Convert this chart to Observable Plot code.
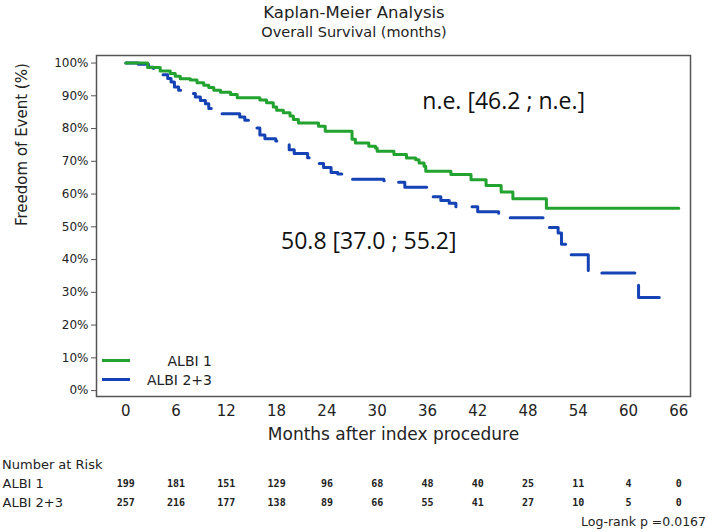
<!DOCTYPE html>
<html><head><meta charset="utf-8">
<script src="https://cdn.jsdelivr.net/npm/d3@7"></script>
<script src="https://cdn.jsdelivr.net/npm/@observablehq/plot@0.6"></script>
<style>
body{margin:0;background:#fff;font-family:"DejaVu Sans",sans-serif;color:#222}
#wrap{position:relative;width:708px;height:532px;overflow:hidden;background:#fff}
.abs{position:absolute}
.ttl{left:0;width:708px;text-align:center;line-height:1.15}
.leg{left:102px;font-size:14px;color:#222}
.leg .row{display:flex;align-items:center;height:19px}
.leg .sw{width:28px;height:3px;margin-right:8px}
.leg .lb{width:74px;text-align:right}
</style></head><body><div id="wrap"></div>
<script>
// ---- data ----
const seriesNames = ["ALBI 1", "ALBI 2+3"];
const seriesColors = ["#22a22e", "#1543b5"];
const albi1Months = [0, 2.6, 4.1, 5.3, 5.9, 6.5, 7.7, 8.5, 9.3, 9.9, 10.5, 11.3, 12.5, 13.3, 16.0, 16.8, 17.6, 18.0, 18.8, 19.6, 20.0, 20.6, 23.0, 23.8, 27.0, 27.4, 29.0, 29.8, 30.0, 32.0, 33.5, 34.6, 35.0, 35.6, 35.8, 38.8, 41.2, 43.0, 44.8, 46.2, 50.2, 66.0];
const albi1Surv   = [100, 98.6, 97.6, 96.8, 96.0, 95.2, 94.8, 94.0, 93.2, 92.5, 91.7, 91.1, 90.4, 89.4, 88.7, 87.9, 86.6, 85.6, 84.8, 83.8, 82.8, 81.7, 80.7, 79.2, 76.7, 75.6, 74.6, 74.1, 73.1, 72.1, 71.0, 70.5, 69.5, 68.5, 67.0, 66.0, 64.4, 62.6, 60.6, 58.6, 55.7, 55.7];
const albi23Months = [0, 1.5, 2.7, 3.3, 3.9, 4.3, 5.0, 5.4, 5.8, 6.3, 7.1, 7.7, 8.3, 8.9, 9.5, 9.9, 10.9, 11.2, 13.6, 14.2, 14.7, 15.1, 16.0, 16.6, 17.9, 18.7, 19.5, 20.1, 21.7, 22.1, 22.6, 23.6, 24.5, 25.3, 26.1, 26.4, 30.8, 32.3, 33.3, 36.0, 36.3, 37.6, 38.6, 39.4, 42.0, 44.5, 49.8, 50.3, 51.6, 52.0, 52.9, 55.2, 61.2, 65.5];
const albi23Surv   = [100, 99.6, 98.7, 98.2, 97.4, 96.4, 95.3, 94.2, 92.7, 91.7, 91.2, 90.7, 89.6, 88.6, 87.6, 86.1, 85.1, 84.5, 83.5, 82.5, 81.0, 80.2, 78.0, 76.9, 76.2, 75.1, 73.5, 72.4, 71.1, 70.1, 69.3, 68.1, 66.6, 66.1, 65.6, 64.5, 64.1, 63.6, 62.1, 60.8, 59.2, 58.0, 57.2, 56.1, 54.6, 52.8, 50.9, 49.8, 48.1, 44.7, 41.5, 35.9, 28.4, 28.4];
const xTicks = [0, 6, 12, 18, 24, 30, 36, 42, 48, 54, 60, 66];
const yTicks = [0, 10, 20, 30, 40, 50, 60, 70, 80, 90, 100];
const riskAlbi1  = [199, 181, 151, 129, 96, 68, 48, 40, 25, 11, 4, 0];
const riskAlbi23 = [257, 216, 177, 138, 89, 66, 55, 41, 27, 10, 5, 0];
const annoText = ["n.e. [46.2 ; n.e.]", "50.8 [37.0 ; 55.2]"];
const annoMonth = [45.1, 29.0];
const annoSurv = [88.3, 45.5];
const titleText = "Kaplan-Meier Analysis";
const subtitleText = "Overall Survival (months)";
const xLabel = "Months after index procedure";
const yLabel = "Freedom of Event (%)";
const riskTitle = "Number at Risk";
const logrankText = "Log-rank p =0.0167";

// ---- build tables ----
const g1 = albi1Months.map((m, i) => ({month: m, surv: albi1Surv[i]}));
const g2 = albi23Months.map((m, i) => ({month: m, surv: albi23Surv[i]}));
const annos = annoText.map((t, i) => ({text: t, month: annoMonth[i], surv: annoSurv[i]}));
const risk = [];
xTicks.forEach((m, i) => {
  risk.push({month: m, row: seriesNames[0], n: riskAlbi1[i]});
  risk.push({month: m, row: seriesNames[1], n: riskAlbi23[i]});
});

const wrap = document.getElementById("wrap");
function addDiv(cls, style, html) {
  const d = document.createElement("div");
  d.className = cls; d.setAttribute("style", style); d.innerHTML = html;
  wrap.appendChild(d); return d;
}
addDiv("abs ttl", "top:4px;font-size:16.5px;", titleText);
addDiv("abs ttl", "top:24px;font-size:14.5px;", subtitleText);

const xDomain = [-3.5, 67.4];
const main = Plot.plot({
  width: 708, height: 412,
  marginLeft: 96, marginRight: 18, marginTop: 13, marginBottom: 58,
  x: {domain: xDomain},
  y: {domain: [-1.8, 102.3]},
  style: {fontFamily: "DejaVu Sans", fontSize: "12px", color: "#222", background: "transparent"},
  marks: [
    Plot.axisY({ticks: yTicks, tickFormat: d => d + "%", tickSize: 5, tickPadding: 3, label: null, fontSize: 12, stroke: "#555"}),
    Plot.axisX({ticks: xTicks, tickSize: 0, tickPadding: 9, label: null, fontSize: 15}),
    Plot.line(g2, {x: "month", y: "surv", curve: "step-after", stroke: seriesColors[1], strokeWidth: 3, strokeDasharray: "33,16"}),
    Plot.line(g1, {x: "month", y: "surv", curve: "step-after", stroke: seriesColors[0], strokeWidth: 3}),
    Plot.frame({stroke: "#555", strokeWidth: 1.5}),
    Plot.text(annos, {x: "month", y: "surv", text: "text", fontFamily: "Open Sans", fontSize: 23, fill: "#111"}),
    Plot.text([xLabel], {frameAnchor: "bottom", dy: 43, fontSize: 17, fill: "#222"}),
    Plot.text([yLabel], {frameAnchor: "left", dx: -74, rotate: -90, fontSize: 15, fill: "#222"})
  ]
});
main.style.position = "absolute"; main.style.left = "0px"; main.style.top = "42px";
wrap.appendChild(main);

// legend overlay
const leg = addDiv("abs leg", "top:351px;", "");
seriesNames.forEach((n, i) => {
  const r = document.createElement("div"); r.className = "row";
  r.innerHTML = `<div class="sw" style="background:${seriesColors[i]}"></div><div class="lb">${n}</div>`;
  leg.appendChild(r);
});

addDiv("abs", "top:457px;left:2px;font-size:13px;", riskTitle);
const riskPlot = Plot.plot({
  width: 708, height: 38,
  marginLeft: 96, marginRight: 18, marginTop: 0, marginBottom: 0,
  x: {domain: xDomain, axis: null},
  y: {type: "band", domain: seriesNames, axis: null, padding: 0},
  style: {background: "transparent"},
  marks: [
    Plot.text(risk, {x: "month", y: "row", text: "n", fontFamily: "DejaVu Sans Mono", fontWeight: "bold", fontSize: 10, fill: "#222"}),
    Plot.text(seriesNames, {y: d => d, frameAnchor: "left", dx: -94, textAnchor: "start", fontFamily: "DejaVu Sans", fontSize: 13, fill: "#222"})
  ]
});
riskPlot.style.position = "absolute"; riskPlot.style.left = "0px"; riskPlot.style.top = "474px";
wrap.appendChild(riskPlot);
addDiv("abs", "top:514px;right:2px;font-size:12.5px;", logrankText);
</script></body></html>
